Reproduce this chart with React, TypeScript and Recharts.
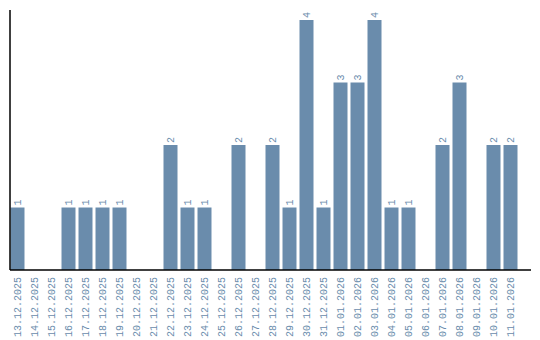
import React from 'react';
import { BarChart, Bar, XAxis, YAxis, LabelList } from 'recharts';

const categories = [
  '13.12.2025', '14.12.2025', '15.12.2025', '16.12.2025', '17.12.2025', '18.12.2025',
  '19.12.2025', '20.12.2025', '21.12.2025', '22.12.2025', '23.12.2025', '24.12.2025',
  '25.12.2025', '26.12.2025', '27.12.2025', '28.12.2025', '29.12.2025', '30.12.2025',
  '31.12.2025', '01.01.2026', '02.01.2026', '03.01.2026', '04.01.2026', '05.01.2026',
  '06.01.2026', '07.01.2026', '08.01.2026', '09.01.2026', '10.01.2026', '11.01.2026',
];
const counts = [1, 0, 0, 1, 1, 1, 1, 0, 0, 2, 1, 1, 0, 2, 0, 2, 1, 4, 1, 3, 3, 4, 1, 1, 0, 2, 3, 0, 2, 2];

const data = categories.map((c, i) => ({ date: c, value: counts[i] }));

const COLOR = '#6a8cac';
const FONT = '"Liberation Mono", "DejaVu Sans Mono", monospace';

const Tick = (props: any) => {
  const { x, y, payload } = props;
  return (
    <text
      transform={`translate(${x},${y}) rotate(-90)`}
      textAnchor="end"
      dy="0.35em"
      fill={COLOR}
      fontFamily={FONT}
      fontSize={10}
    >
      {payload.value}
    </text>
  );
};

const ValueLabel = (props: any) => {
  const { x, y, width, value } = props;
  if (!value) return null;
  const cx = x + width / 2;
  return (
    <text
      transform={`translate(${cx},${y - 2}) rotate(-90)`}
      textAnchor="start"
      dy="0.35em"
      fill={COLOR}
      fontFamily={FONT}
      fontSize={10}
    >
      {value}
    </text>
  );
};

export default function App() {
  return (
    <div style={{ position: 'absolute', left: 0, top: 0, background: '#fff' }}>
      <BarChart
        width={540}
        height={340}
        data={data}
        margin={{ top: 10, right: 9, bottom: 0, left: 9 }}
      >
        <XAxis
          dataKey="date"
          interval={0}
          height={70}
          tickSize={0}
          tickMargin={7}
          tickLine={false}
          axisLine={{ stroke: '#000', strokeWidth: 1.5 }}
          padding={{ left: -1.5, right: 12.5 }}
          tick={<Tick />}
        />
        <YAxis
          width={1}
          domain={[0, 4]}
          padding={{ top: 10, bottom: 0 }}
          tick={false}
          tickLine={false}
          axisLine={{ stroke: '#000', strokeWidth: 1.5 }}
        />
        <Bar dataKey="value" fill={COLOR} barSize={14} isAnimationActive={false}>
          <LabelList dataKey="value" content={<ValueLabel />} />
        </Bar>
      </BarChart>
    </div>
  );
}
